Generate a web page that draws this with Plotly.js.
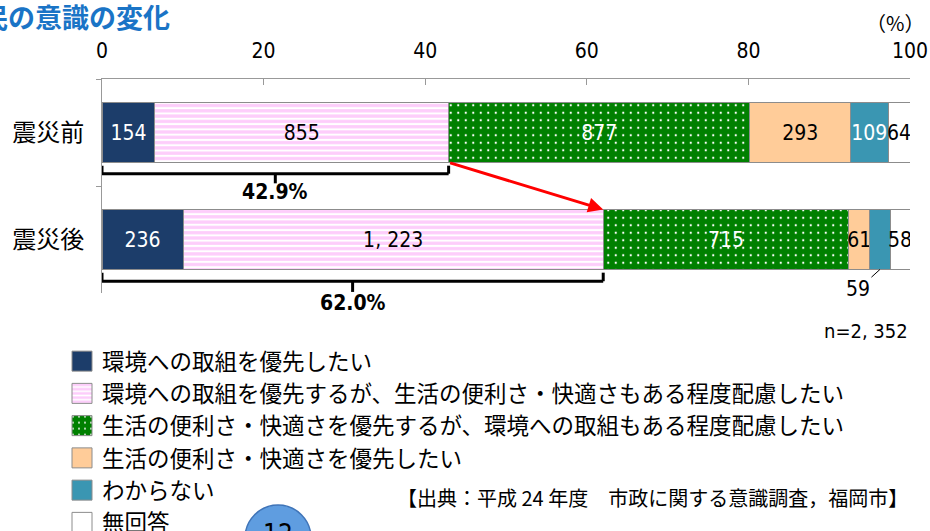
<!DOCTYPE html>
<html>
<head>
<meta charset="utf-8">
<script src="https://cdn.plot.ly/plotly-3.0.1.min.js"></script>
<style>html,body{margin:0;padding:0;background:#fff;}#chart{width:930px;height:531px;}</style>
</head>
<body>
<div id="chart"></div>
<script>
// ---- data ----
const categories = ['震災前', '震災後'];
const seriesNames = [
  '環境への取組を優先したい',
  '環境への取組を優先するが、生活の便利さ・快適さもある程度配慮したい',
  '生活の便利さ・快適さを優先するが、環境への取組もある程度配慮したい',
  '生活の便利さ・快適さを優先したい',
  'わからない',
  '無回答'
];
const envFirst      = [154, 236];
const envButComfort = [855, 1223];
const comfortButEnv = [877, 715];
const comfortFirst  = [293, 61];
const dontKnow      = [109, 59];
const noAnswer      = [64, 58];
const sampleSize = 2352;
const xTickVals = [0, 20, 40, 60, 80, 100];
const titleText = '市民の意識の変化';
const sourceText = '【出典：平成 24 年度　市政に関する意識調査，福岡市】';
const pageNumber = '12';

// ---- styles ----
const numFont = "'Liberation Sans Narrow', 'DejaVu Sans Condensed', 'Noto Sans CJK JP', sans-serif";
const jpFont = "'Noto Sans CJK JP', sans-serif";
const series = [envFirst, envButComfort, comfortButEnv, comfortFirst, dontKnow, noAnswer];
const totals = categories.map((c, i) => series.reduce((s, a) => s + a[i], 0));
const pct = a => a.map((v, i) => v / totals[i] * 100);
const fmt = v => v.toLocaleString('en-US').replace(/,/g, ', ');

const styles = [
  {color: '#1c3d6a', text: ['white', 'white']},
  {color: '#ffccff', pattern: {shape: '-', fgcolor: '#ffffff', bgcolor: '#fdcdfb', size: 5.3, solidity: 0.38, fillmode: 'replace'}, text: ['black', 'black']},
  {color: '#008000', pattern: {shape: '.', fgcolor: '#ffffff', bgcolor: '#008000', size: 7.5, solidity: 0.07, fillmode: 'replace'}, text: ['white', 'white']},
  {color: '#ffcc99', text: ['black', 'black']},
  {color: '#3a96b2', text: ['white', 'white']},
  {color: '#ffffff', text: ['black', 'black']}
];

const traces = series.map((arr, k) => {
  const texts = arr.map(fmt);
  if (k === 4) texts[1] = '';
  const marker = {color: styles[k].color, line: {color: '#8c8c8c', width: 1}};
  if (styles[k].pattern) marker.pattern = styles[k].pattern;
  return {
    type: 'bar', orientation: 'h', name: seriesNames[k],
    y: categories, x: pct(arr), width: 0.56,
    marker: marker,
    text: texts, textposition: 'inside', insidetextanchor: 'middle',
    textangle: 0, constraintext: 'none',
    textfont: {family: numFont, size: 21, color: styles[k].text},
    hoverinfo: 'skip'
  };
});

const cumTop = (envFirst[0] + envButComfort[0]) / totals[0] * 100;
const cumBot = (envFirst[1] + envButComfort[1]) / totals[1] * 100;
const tealBotCenter = (envFirst[1] + envButComfort[1] + comfortButEnv[1] + comfortFirst[1] + dontKnow[1] / 2) / totals[1] * 100;

function bracket(x1, yLine, yHook, yTick) {
  const ln = {color: '#000', width: 3};
  return [
    {type: 'line', xref: 'x', yref: 'y', x0: 0, x1: x1, y0: yLine, y1: yLine, line: ln},
    {type: 'line', xref: 'x', yref: 'y', x0: 0, x1: 0, y0: yHook, y1: yLine, line: ln},
    {type: 'line', xref: 'x', yref: 'y', x0: x1, x1: x1, y0: yHook, y1: yLine, line: ln},
    {type: 'line', xref: 'x', yref: 'y', x0: x1 / 2, x1: x1 / 2, y0: yLine, y1: yTick, line: ln}
  ];
}

const shapes = [].concat(
  bracket(cumTop, 0.385, 0.31, 0.475),
  bracket(cumBot, 1.39, 1.31, 1.49),
  [{type: 'circle', xref: 'paper', yref: 'paper', x0: 0.177, x1: 0.2587, y0: -0.9907, y1: -1.299,
    fillcolor: '#5f9de0', line: {color: '#3f74b8', width: 1.5}}]
);

const annotations = [
  {xref: 'paper', yref: 'paper', x: 0.0866, y: 1.29, xanchor: 'right', yanchor: 'middle', showarrow: false,
   text: '<b>' + titleText + '</b>', font: {family: jpFont, size: 27, color: '#1a74c6'}},
  {xref: 'paper', yref: 'paper', x: 1.02, y: 1.266, xanchor: 'right', yanchor: 'middle', showarrow: false,
   text: '（%）', font: {family: jpFont, size: 20, color: '#000'}},
  {xref: 'x', yref: 'paper', x: cumTop / 2, y: 1 - (192 - 79) / 214, yanchor: 'middle', showarrow: false,
   text: '<b>' + cumTop.toFixed(1) + '%</b>', font: {family: numFont, size: 21, color: '#000'}},
  {xref: 'x', yref: 'paper', x: cumBot / 2, y: 1 - (303 - 79) / 214, yanchor: 'middle', showarrow: false,
   text: '<b>' + cumBot.toFixed(1) + '%</b>', font: {family: numFont, size: 21, color: '#000'}},
  {xref: 'x', yref: 'y', axref: 'x', ayref: 'y', x: cumBot, y: 0.72, ax: cumTop, ay: 0.28,
   text: '', showarrow: true, arrowcolor: '#ff0000', arrowwidth: 3, arrowhead: 2, arrowsize: 1, standoff: 0, startstandoff: 0},
  {xref: 'x', yref: 'y', x: tealBotCenter, y: 1.28, ax: -22, ay: 20, showarrow: true, arrowhead: 0,
   arrowwidth: 1, arrowcolor: '#000', standoff: 0, text: String(dontKnow[1]),
   font: {family: numFont, size: 21, color: '#000'}},
  {xref: 'paper', yref: 'paper', x: 1.0, y: 1 - (331 - 79) / 214, xanchor: 'right', yanchor: 'middle', showarrow: false,
   text: 'n=' + fmt(sampleSize), font: {family: numFont, size: 20, color: '#000'}},
  {xref: 'paper', yref: 'paper', x: 1.0, y: 1 - (497 - 79) / 214, xanchor: 'right', yanchor: 'middle', showarrow: false,
   text: sourceText, font: {family: jpFont, size: 20, color: '#000'}},
  {xref: 'paper', yref: 'paper', x: 0.2178, y: 1 - (534 - 79) / 214, xanchor: 'center', yanchor: 'middle', showarrow: false,
   text: pageNumber, font: {family: numFont, size: 26, color: '#000'}}
];

const layout = {
  width: 930, height: 531,
  margin: {l: 102, r: 20, t: 79, b: 238, pad: 0, autoexpand: false},
  paper_bgcolor: '#ffffff', plot_bgcolor: '#ffffff',
  barmode: 'stack', bargap: 0.44,
  showlegend: true,
  legend: {x: -0.0495, y: 1 - (340 - 79) / 214, xanchor: 'left', yanchor: 'top', traceorder: 'normal',
           font: {family: jpFont, size: 22.5, color: '#000'}, bgcolor: 'rgba(0,0,0,0)', itemclick: false},
  xaxis: {side: 'top', range: [0, 100], tickvals: xTickVals, ticktext: xTickVals.map(String),
          ticks: 'inside', ticklen: 6, tickcolor: '#999', showline: true, linecolor: '#999', linewidth: 1,
          showgrid: false, zeroline: false, fixedrange: true, ticklabelstandoff: 12,
          tickfont: {family: numFont, size: 21, color: '#000'}},
  yaxis: {type: 'category', categoryarray: categories, categoryorder: 'array', range: [1.5, -0.5],
          ticks: 'outside', tickson: 'boundaries', ticklen: 5, tickcolor: '#999',
          showline: true, linecolor: '#999', linewidth: 1, showgrid: false, zeroline: false,
          ticklabelstandoff: 12, fixedrange: true,
          tickfont: {family: jpFont, size: 24, color: '#000'}},
  shapes: shapes,
  annotations: annotations
};

Plotly.newPlot('chart', traces, layout, {staticPlot: true, displayModeBar: false}).then(() => {
  document.querySelectorAll('#chart .legend .legendpoints path').forEach(p => {
    p.setAttribute('d', 'M10,10H-10V-10H10Z');
  });
});
</script>
</body>
</html>
